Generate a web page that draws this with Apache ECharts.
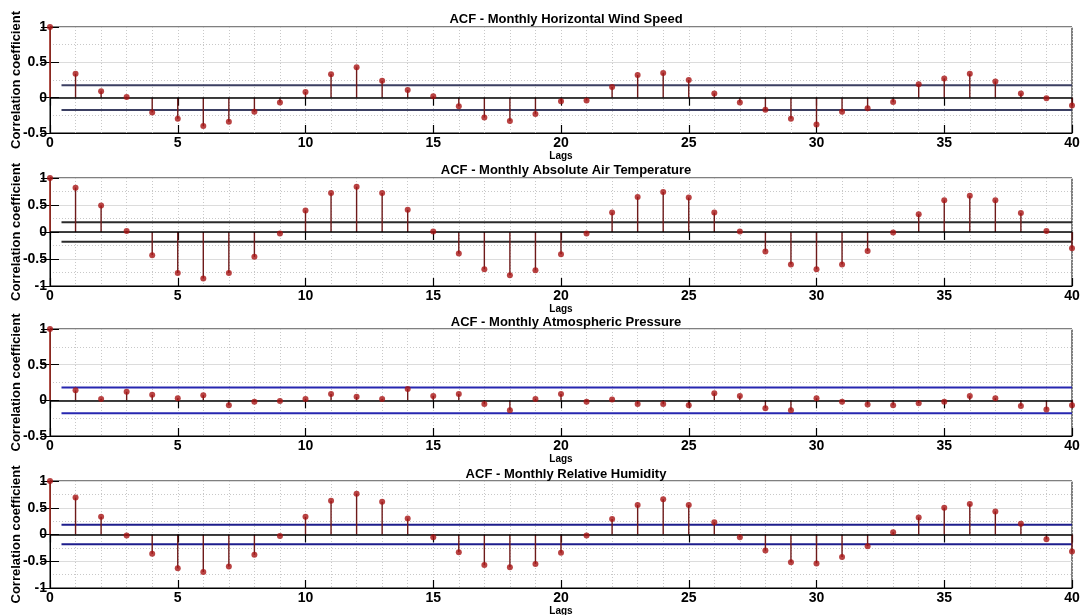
<!DOCTYPE html>
<html>
<head>
<meta charset="utf-8">
<script src="https://cdn.jsdelivr.net/npm/echarts@6/dist/echarts.min.js"></script>
<style>
html,body{margin:0;padding:0;background:#fff;}
#chart{width:1082px;height:615px;}
</style>
</head>
<body>
<div id="chart"></div>
<script>
// ---- data ----
const lags = [0,1,2,3,4,5,6,7,8,9,10,11,12,13,14,15,16,17,18,19,20,21,22,23,24,25,26,27,28,29,30,31,32,33,34,35,36,37,38,39,40];
const windSpeed = [1, 0.34, 0.09, 0.01, -0.21, -0.30, -0.40, -0.34, -0.20, -0.07, 0.08,
  0.33, 0.43, 0.24, 0.11, 0.02, -0.12, -0.28, -0.33, -0.23, -0.05,
  -0.04, 0.15, 0.32, 0.35, 0.25, 0.06, -0.07, -0.17, -0.30, -0.38,
  -0.20, -0.15, -0.06, 0.19, 0.27, 0.34, 0.23, 0.06, -0.01, -0.11];
const airTemp = [1, 0.82, 0.49, 0.02, -0.43, -0.76, -0.86, -0.76, -0.46, -0.03, 0.40,
  0.72, 0.84, 0.72, 0.41, 0.01, -0.40, -0.69, -0.80, -0.71, -0.41,
  -0.03, 0.36, 0.65, 0.74, 0.64, 0.36, 0.01, -0.36, -0.60, -0.69,
  -0.60, -0.35, -0.01, 0.33, 0.59, 0.67, 0.59, 0.35, 0.02, -0.30];
const pressure = [1, 0.14, 0.02, 0.12, 0.08, 0.03, 0.07, -0.07, -0.02, -0.01, 0.02,
  0.09, 0.05, 0.02, 0.16, 0.06, 0.09, -0.05, -0.14, 0.02, 0.09,
  -0.02, 0.01, -0.05, -0.05, -0.07, 0.10, 0.06, -0.11, -0.14, 0.03,
  -0.02, -0.06, -0.07, -0.04, -0.02, 0.06, 0.03, -0.08, -0.13, -0.07];
const humidity = [1, 0.69, 0.33, -0.02, -0.36, -0.63, -0.70, -0.60, -0.38, -0.03, 0.33,
  0.63, 0.76, 0.61, 0.30, -0.05, -0.33, -0.57, -0.61, -0.55, -0.34,
  -0.02, 0.29, 0.55, 0.66, 0.55, 0.23, -0.05, -0.30, -0.52, -0.54,
  -0.42, -0.22, 0.04, 0.32, 0.50, 0.57, 0.43, 0.20, -0.09, -0.32];
const titles = ['ACF - Monthly Horizontal Wind Speed', 'ACF - Monthly Absolute Air Temperature',
  'ACF - Monthly Atmospheric Pressure', 'ACF - Monthly Relative Humidity'];
const confBounds = [0.176, 0.18, 0.18, 0.18];
const confLagRange = [0.45, 40];
const yMins = [-0.5, -1, -0.5, -1];
const yMax = 1;
const xMin = 0, xMax = 40, xInterval = 5, yInterval = 0.5;
const xName = 'Lags';
const yName = 'Correlation coefficient';

// ---- styling/layout ----
const seriesData = [windSpeed, airTemp, pressure, humidity];
const gridTops = [27, 178, 329, 481];
const gridHeights = [106, 108, 107, 107];
const titleTops = [8, 159, 311, 463];
const confColors = ['#3b3f62', '#2b2b2b', '#2727b0', '#1d1d8c'];
const FONT = '"Liberation Sans", Arial, Helvetica, sans-serif';
const stemColor = '#6e1a1a';
const stemColor0 = '#c23a2e';
const dotColor = '#a81414';

const grids = [], xAxes = [], yAxes = [], series = [], titleArr = [];
for (let i = 0; i < 4; i++) {
  grids.push({left: 50, right: 10, top: gridTops[i], height: gridHeights[i],
    outerBoundsMode: 'none', containLabel: false,
    show: true, borderColor: '#000', borderWidth: 1, backgroundColor: 'transparent'});
  titleArr.push({text: titles[i], left: 561, top: titleTops[i], textAlign: 'center',
    textStyle: {fontFamily: FONT, fontSize: 13, fontWeight: 'bold', color: '#000'}});
  // bottom x axis
  xAxes.push({type: 'value', gridIndex: i, min: xMin, max: xMax, interval: xInterval, position: 'bottom',
    name: xName, nameLocation: 'middle', nameGap: 18, nameMoveOverlap: false,
    nameTextStyle: {fontFamily: FONT, fontSize: 10, fontWeight: 'bold', color: '#000'},
    axisLine: {show: true, onZero: false, lineStyle: {color: '#000', width: 1}},
    axisTick: {show: true, inside: true, length: 8, lineStyle: {color: '#000', width: 1.2}},
    axisLabel: {fontFamily: FONT, fontSize: 14, fontWeight: 'bold', color: '#000', margin: 3},
    splitLine: {show: true, lineStyle: {color: '#c8c8c8', type: [1, 2], width: 1}},
    minorTick: {show: false, splitNumber: 5},
    minorSplitLine: {show: true, lineStyle: {color: '#c8c8c8', type: [1, 2], width: 1}}
  });
  // top x axis (ticks only)
  xAxes.push({type: 'value', gridIndex: i, min: xMin, max: xMax, interval: xInterval, position: 'top',
    axisLine: {show: false}, axisLabel: {show: false}, splitLine: {show: false},
    axisTick: {show: true, inside: true, length: 8, lineStyle: {color: '#000', width: 1.2}}});
  // left y axis
  yAxes.push({type: 'value', gridIndex: i, min: yMins[i], max: yMax, interval: yInterval, position: 'left',
    name: yName, nameLocation: 'middle', nameGap: 27, nameMoveOverlap: false,
    nameTextStyle: {fontFamily: FONT, fontSize: 13, fontWeight: 'bold', color: '#000'},
    axisLine: {show: true, onZero: false, lineStyle: {color: '#000', width: 1}},
    axisTick: {show: true, inside: true, length: 9, lineStyle: {color: '#000', width: 1}},
    axisLabel: {fontFamily: FONT, fontSize: 14, fontWeight: 'bold', color: '#000', margin: 3},
    splitLine: {show: true, lineStyle: {color: '#dcdcdc', width: 1}},
    minorTick: {show: false, splitNumber: 2},
    minorSplitLine: {show: true, lineStyle: {color: '#c8c8c8', type: [1, 2], width: 1}}
  });
  // right y axis (ticks only)
  yAxes.push({type: 'value', gridIndex: i, min: yMins[i], max: yMax, interval: yInterval, position: 'right',
    axisLine: {show: false}, axisLabel: {show: false}, splitLine: {show: false},
    axisTick: {show: true, inside: true, length: 9, lineStyle: {color: '#000', width: 1}}});

  const pts = lags.map((l, k) => [l, seriesData[i][k]]);
  const xi = i * 2, yi = i * 2;
  // confidence bounds
  [1, -1].forEach(sgn => {
    series.push({type: 'line', xAxisIndex: xi, yAxisIndex: yi, silent: true, symbol: 'none',
      data: confLagRange.map(x => [x, sgn * confBounds[i]]),
      lineStyle: {color: confColors[i], width: 2}, z: 2});
  });
  // stems
  series.push({type: 'custom', xAxisIndex: xi, yAxisIndex: yi, data: pts, z: 4,
    encode: {x: 0, y: 1},
    markLine: {silent: true, symbol: 'none', label: {show: false},
      lineStyle: {color: '#000', width: 1.6, type: 'solid'}, data: [{yAxis: 0}]},
    renderItem: function (params, api) {
      const x = api.value(0), y = api.value(1);
      const p0 = api.coord([x, 0]), p1 = api.coord([x, y]);
      return {type: 'line', shape: {x1: p0[0], y1: p0[1], x2: p1[0], y2: p1[1]},
        style: {stroke: x === 0 ? stemColor0 : stemColor, lineWidth: 1.4}};
    }});
  // markers
  series.push({type: 'scatter', xAxisIndex: xi, yAxisIndex: yi, data: pts, symbol: 'circle',
    symbolSize: 6, itemStyle: {color: dotColor}, z: 5, silent: true});
}

const chart = echarts.init(document.getElementById('chart'), null, {renderer: 'canvas'});
chart.setOption({
  animation: false,
  backgroundColor: '#fff',
  title: titleArr,
  grid: grids,
  xAxis: xAxes,
  yAxis: yAxes,
  series: series
});
</script>
</body>
</html>
